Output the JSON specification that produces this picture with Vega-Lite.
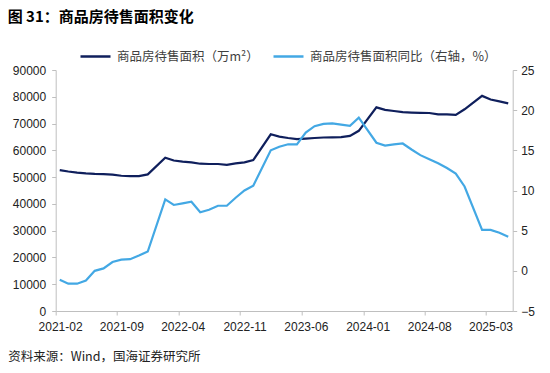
{
  "$schema": "https://vega.github.io/schema/vega-lite/v6.json",
  "width": 457,
  "height": 241,
  "autosize": {"type": "none"},
  "padding": {"left": 55.7, "top": 70, "right": 37.3, "bottom": 62},
  "background": "white",
  "title": {
    "text": "图 31：商品房待售面积变化",
    "anchor": "start",
    "frame": "group",
    "dx": -48,
    "offset": 15,
    "fontSize": 15,
    "font": "Noto Sans CJK SC",
    "fontWeight": "bold",
    "color": "#000000"
  },
  "data": {
    "values": [
      {"month": "2021-02", "area": 52600, "yoy": -1.1},
      {"month": "2021-03", "area": 52100, "yoy": -1.6},
      {"month": "2021-04", "area": 51700, "yoy": -1.6},
      {"month": "2021-05", "area": 51400, "yoy": -1.2},
      {"month": "2021-06", "area": 51200, "yoy": 0.0},
      {"month": "2021-07", "area": 51100, "yoy": 0.3},
      {"month": "2021-08", "area": 50900, "yoy": 1.1},
      {"month": "2021-09", "area": 50500, "yoy": 1.4},
      {"month": "2021-10", "area": 50400, "yoy": 1.45},
      {"month": "2021-11", "area": 50400, "yoy": 1.9},
      {"month": "2021-12", "area": 51023, "yoy": 2.4},
      {"month": "2022-02", "area": 57255, "yoy": 8.9},
      {"month": "2022-03", "area": 56200, "yoy": 8.2},
      {"month": "2022-04", "area": 55800, "yoy": 8.4},
      {"month": "2022-05", "area": 55500, "yoy": 8.6},
      {"month": "2022-06", "area": 55000, "yoy": 7.3},
      {"month": "2022-07", "area": 54900, "yoy": 7.6},
      {"month": "2022-08", "area": 54900, "yoy": 8.1},
      {"month": "2022-09", "area": 54600, "yoy": 8.1},
      {"month": "2022-10", "area": 55100, "yoy": 9.1},
      {"month": "2022-11", "area": 55500, "yoy": 10.0},
      {"month": "2022-12", "area": 56366, "yoy": 10.6},
      {"month": "2023-02", "area": 66000, "yoy": 15.0},
      {"month": "2023-03", "area": 65100, "yoy": 15.45},
      {"month": "2023-04", "area": 64600, "yoy": 15.75},
      {"month": "2023-05", "area": 64200, "yoy": 15.75},
      {"month": "2023-06", "area": 64400, "yoy": 17.2},
      {"month": "2023-07", "area": 64600, "yoy": 18.0},
      {"month": "2023-08", "area": 64800, "yoy": 18.3},
      {"month": "2023-09", "area": 64850, "yoy": 18.35},
      {"month": "2023-10", "area": 64900, "yoy": 18.2},
      {"month": "2023-11", "area": 65400, "yoy": 18.06},
      {"month": "2023-12", "area": 67295, "yoy": 19.06},
      {"month": "2024-02", "area": 76043, "yoy": 15.95},
      {"month": "2024-03", "area": 75100, "yoy": 15.6},
      {"month": "2024-04", "area": 74700, "yoy": 15.75},
      {"month": "2024-05", "area": 74250, "yoy": 15.85},
      {"month": "2024-06", "area": 74100, "yoy": 15.1},
      {"month": "2024-07", "area": 74000, "yoy": 14.4},
      {"month": "2024-08", "area": 73950, "yoy": 13.9},
      {"month": "2024-09", "area": 73450, "yoy": 13.4},
      {"month": "2024-10", "area": 73400, "yoy": 12.8},
      {"month": "2024-11", "area": 73250, "yoy": 12.1},
      {"month": "2024-12", "area": 75327, "yoy": 10.5},
      {"month": "2025-02", "area": 80334, "yoy": 5.1},
      {"month": "2025-03", "area": 79000, "yoy": 5.1},
      {"month": "2025-04", "area": 78300, "yoy": 4.75},
      {"month": "2025-05", "area": 77560, "yoy": 4.25}
    ]
  },
  "encoding": {
    "x": {
      "field": "month",
      "type": "temporal",
      "timeUnit": "utcyearmonth",
      "bandPosition": 0.5,
      "scale": {
        "type": "utc",
        "domain": [
          {"year": 2021, "month": 2, "date": 1, "utc": true},
          {"year": 2025, "month": 6, "date": 1, "utc": true}
        ]
      },
      "axis": {
        "values": [
          {"year": 2021, "month": 2, "date": 1, "utc": true},
          {"year": 2021, "month": 9, "date": 1, "utc": true},
          {"year": 2022, "month": 4, "date": 1, "utc": true},
          {"year": 2022, "month": 11, "date": 1, "utc": true},
          {"year": 2023, "month": 6, "date": 1, "utc": true},
          {"year": 2024, "month": 1, "date": 1, "utc": true},
          {"year": 2024, "month": 8, "date": 1, "utc": true},
          {"year": 2025, "month": 3, "date": 1, "utc": true}
        ],
        "labelExpr": "utcFormat(datum.value, '%Y-%m')",
        "labelOffset": 4.4,
        "labelAlign": "center",
        "labelPadding": 6,
        "tickSize": 4,
        "grid": false,
        "title": "资料来源：Wind，国海证券研究所",
        "titleAnchor": "start",
        "titleAlign": "left",
        "titleX": -48,
        "titleY": 45,
        "titleBaseline": "middle",
        "titleFont": "Noto Sans CJK SC",
        "titleFontSize": 12.5,
        "titleFontWeight": "normal",
        "titleColor": "#222222"
      }
    }
  },
  "layer": [
    {
      "mark": {"type": "line", "strokeWidth": 2.2, "interpolate": "linear"},
      "encoding": {
        "y": {
          "field": "area",
          "type": "quantitative",
          "scale": {"domain": [0, 90000], "nice": false},
          "axis": {
            "orient": "left",
            "values": [0, 10000, 20000, 30000, 40000, 50000, 60000, 70000, 80000, 90000],
            "format": "d",
            "title": null,
            "grid": false,
            "tickSize": 4,
            "labelPadding": 6
          }
        },
        "color": {"datum": "商品房待售面积（万m²）"}
      }
    },
    {
      "mark": {"type": "line", "strokeWidth": 2.2, "interpolate": "linear"},
      "encoding": {
        "y": {
          "field": "yoy",
          "type": "quantitative",
          "scale": {"domain": [-5, 25], "nice": false, "zero": false},
          "axis": {
            "orient": "right",
            "values": [-5, 0, 5, 10, 15, 20, 25],
            "title": null,
            "grid": false,
            "tickSize": 4,
            "labelPadding": 4
          }
        },
        "color": {"datum": "商品房待售面积同比（右轴，%）"}
      }
    }
  ],
  "resolve": {"scale": {"y": "independent"}},
  "config": {
    "view": {"stroke": null},
    "range": {"category": ["#0f1f5c", "#43a8e4"]},
    "axis": {
      "domainColor": "#bfbfbf",
      "tickColor": "#bfbfbf",
      "labelFont": "Liberation Sans",
      "labelFontSize": 12,
      "labelColor": "#222222"
    },
    "legend": {
      "orient": "none",
      "legendX": 23.3,
      "legendY": -30,
      "direction": "horizontal",
      "title": null,
      "symbolType": "stroke",
      "symbolSize": 900,
      "symbolStrokeWidth": 2.5,
      "labelFont": "Noto Sans CJK SC",
      "labelFontSize": 12.5,
      "labelLimit": 400,
      "labelColor": "#404040",
      "labelOffset": 5,
      "columnPadding": 9
    }
  }
}
